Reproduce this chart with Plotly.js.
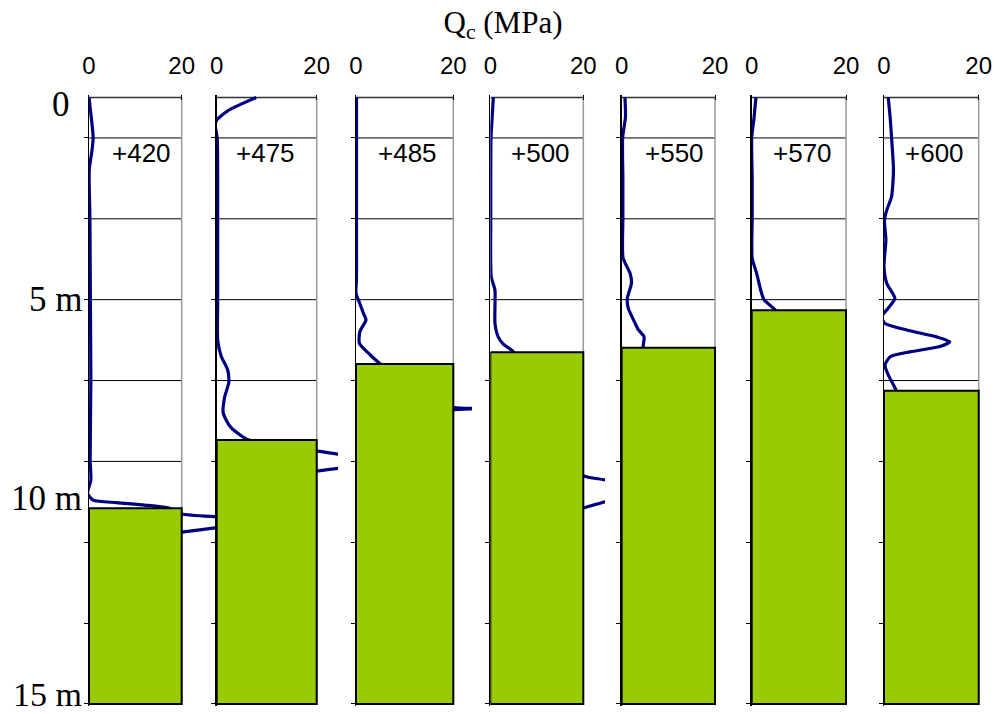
<!DOCTYPE html>
<html>
<head>
<meta charset="utf-8">
<script src="https://cdn.plot.ly/plotly-3.0.1.min.js"></script>
<style>html,body{margin:0;padding:0;background:#fff;}#chart{width:997px;height:714px;}</style>
</head>
<body>
<div id="chart"></div>
<script>
// ---------- DATA ----------
const stations = ['+420', '+475', '+485', '+500', '+550', '+570', '+600'];
const xTickVals = [0, 20];
const xTickText = ['0', '20'];
const depthLabels = ['0', '5 m', '10 m', '15 m'];
const depthLabelVals = [0, 5, 10, 15];
const gridDepths = [1, 3, 5, 7, 9, 11, 13];
const maxDepth = 15;
// depth (m) at which the green layer starts, one per station
const layerTop = [10.16, 8.47, 6.59, 6.30, 6.19, 5.26, 7.25];

// cone resistance qc (MPa) vs depth z (m)
const z420  = [0, 0.5, 1.0, 1.3, 1.8, 3, 5, 7, 8.97, 9.46, 9.79, 9.96, 10.02, 10.08, 10.15, 10.30, 10.37, 10.45, 10.64, 10.75, 10.85];
const qc420 = [0, 0.5, 0.9, 0.65, 0.05, 0.2, 0.3, 0.4, 0.25, 0.4, -0.3, 0.9, 6, 12, 17, 20, 27.6, 41, 27.6, 20, 12];

const z475  = [0, 0.33, 0.56, 0.68, 1.0, 3, 5, 6.0, 6.4, 6.74, 7.06, 7.4, 7.8, 8.14, 8.45, 8.6, 8.74, 8.82, 9.0, 9.17, 9.24, 9.35];
const qc475 = [7.9, 2.2, 0, -0.3, 0.1, 0.2, 0.2, 0.2, 0.9, 2.2, 2.4, 1.6, 1.3, 2.7, 6, 12, 20, 24.3, 36, 24.3, 20, 12];

const z485  = [0, 1, 2, 3, 4, 4.47, 4.84, 5.1, 5.33, 5.5, 5.79, 6.08, 6.35, 6.58, 6.9, 7.3, 7.66, 7.69, 7.72, 7.8];
const qc485 = [0.1, 0.1, 0.1, 0.1, 0.1, 0.1, 0, 0.8, 1.5, 2.05, 0.8, 0.7, 2.8, 4.9, 9, 15, 20, 26, 20, 14];

const z500  = [0, 0.5, 1.0, 2, 3, 4.43, 4.76, 5.2, 5.58, 5.92, 6.1, 6.25, 6.6, 7.2, 8.0, 8.8, 9.35, 9.46, 9.75, 10.0, 10.15, 10.3];
const qc500 = [0.65, 0.4, 0.15, 0.1, 0.1, 0.2, 1.0, 1.0, 1.0, 1.7, 2.8, 4.6, 7, 9, 12, 16, 20, 24.7, 34, 24.7, 20, 15];

const z550  = [0, 0.3, 0.5, 1.0, 2, 3, 3.97, 4.35, 4.59, 4.97, 5.21, 5.59, 5.75, 5.92, 6.16, 6.4];
const qc550 = [0.7, 0.8, 0.8, 0.2, 0.25, 0.25, 0.3, 1.8, 2.1, 1.2, 1.4, 2.9, 3.6, 4.8, 4.6, 5];

const z570  = [0, 0.5, 1.0, 2, 3, 3.97, 4.35, 4.76, 5.0, 5.21, 5.4];
const qc570 = [0.9, 0.5, 0, 0.1, 0.1, 0.1, 1.05, 1.9, 2.6, 4.6, 6];

const z600  = [0, 0.5, 1.0, 1.79, 2.45, 2.78, 3.03, 3.52, 4.18, 4.6, 4.97, 5.21, 5.42, 5.59, 5.75, 5.92, 6.04, 6.16, 6.29, 6.41, 6.62, 6.86, 7.11, 7.23, 7.4];
const qc600 = [0.9, 1.3, 1.6, 2.0, 1.6, 0.6, 0.1, 0.4, 0, 0.6, 2.3, 0.9, -0.5, 0.2, 4.8, 11.1, 13.9, 11.8, 5.5, 1.3, 0.2, 0.9, 2.0, 2.5, 3];

const depthSeries = [z420, z475, z485, z500, z550, z570, z600];
const qcSeries = [qc420, qc475, qc485, qc500, qc550, qc570, qc600];

// ---------- LAYOUT GEOMETRY (pixels) ----------
const W = 997, H = 714;
const panelLeft  = [89, 216.7, 356, 490.3, 621.7, 751.7, 884];
const panelRight = [181.7, 316.7, 453.3, 583.3, 715, 846, 978.7];
const panelClip  = [216.7, 338, 472, 605, 717, 848, 980.7];
const labelX = [11.3, 9.8, 10.6, 10.9, 11.4, 10.7, 10.7];
const yTopPx = 97.5, yBotPx = 704, pad = 0.05;
const pxPerM = (yBotPx - yTopPx) / maxDepth;
const yDomain = [1 - (yBotPx + pad * pxPerM) / H, 1 - (yTopPx - pad * pxPerM) / H];

const navy = '#000080', green = '#99CC00';
const sans = 'Liberation Sans, Arial, sans-serif';
const serif = 'Liberation Serif, Times New Roman, serif';

const traces = [];
const shapes = [];
const annotations = [];
const layout = {
  width: W, height: H,
  margin: {l: 0, r: 0, t: 0, b: 0},
  paper_bgcolor: '#ffffff',
  plot_bgcolor: 'rgba(0,0,0,0)',
  showlegend: false,
  hovermode: false,
  title: {
    text: 'Q<sub>c</sub> (MPa)',
    font: {family: serif, size: 31, color: '#000'},
    x: 503 / W, xanchor: 'center', y: 1 - 22 / H, yanchor: 'middle'
  }
};

stations.forEach((st, i) => {
  const n = i === 0 ? '' : String(i + 1);
  const xa = 'x' + n, ya = 'y' + n;
  const L = panelLeft[i], R = panelRight[i], E = panelClip[i];
  const xmax = 20 * (E - L) / (R - L);
  layout['xaxis' + n] = {
    domain: [L / W, E / W],
    range: [0, xmax],
    anchor: ya,
    side: 'top',
    tickmode: 'array', tickvals: xTickVals, ticktext: xTickText,
    ticks: 'inside', ticklen: 5, tickwidth: 1, tickcolor: '#000',
    ticklabelstandoff: 16,
    tickfont: {family: sans, size: 24, color: '#000'},
    showline: false, showgrid: false, zeroline: false, fixedrange: true
  };
  layout['yaxis' + n] = {
    domain: yDomain,
    range: [maxDepth + pad, -pad],
    anchor: xa,
    tickmode: 'array', tickvals: gridDepths.concat([maxDepth]),
    ticks: 'outside', ticklen: 4, tickwidth: 1, tickcolor: '#000',
    showticklabels: false,
    showline: true, linecolor: '#000', linewidth: 1.5,
    showgrid: false, zeroline: false, fixedrange: true
  };

  // grid lines inside panel
  gridDepths.forEach(d => shapes.push({
    type: 'line', xref: xa, yref: ya, x0: 0, x1: 20, y0: d, y1: d,
    line: {color: '#000', width: 1}, layer: 'below'
  }));
  // right border (grey) and top border (black)
  shapes.push({type: 'line', xref: xa, yref: ya, x0: 20, x1: 20, y0: 0, y1: maxDepth,
    line: {color: '#9a9a9a', width: 1.5}, layer: 'below'});
  shapes.push({type: 'line', xref: xa, yref: ya, x0: 0, x1: 20, y0: 0, y1: 0,
    line: {color: '#333', width: 1.5}, layer: 'below'});

  // qc profile
  traces.push({
    type: 'scatter', mode: 'lines', xaxis: xa, yaxis: ya,
    x: qcSeries[i], y: depthSeries[i],
    line: {color: navy, width: 3.2, shape: 'spline', smoothing: 0.6}
  });
  // green layer
  traces.push({
    type: 'scatter', mode: 'lines', xaxis: xa, yaxis: ya,
    x: [0, 20, 20, 0, 0],
    y: [layerTop[i], layerTop[i], maxDepth, maxDepth, layerTop[i]],
    fill: 'toself', fillcolor: green,
    line: {color: '#000', width: 2}
  });

  annotations.push({
    xref: xa, yref: ya, x: labelX[i], y: 1.37, text: st, showarrow: false,
    xanchor: 'center', yanchor: 'middle',
    font: {family: sans, size: 26, color: '#000'}
  });
});

// depth labels on the left
depthLabels.forEach((t, k) => {
  const isZero = depthLabelVals[k] === 0;
  annotations.push({
    xref: 'paper', yref: 'y', x: isZero ? 61 / W : 84 / W, y: depthLabelVals[k],
    text: t, showarrow: false,
    xanchor: isZero ? 'center' : 'right', yanchor: 'middle',
    yshift: isZero ? -7 : (depthLabelVals[k] === 10 ? 3 : (depthLabelVals[k] === 15 ? 9 : 0)),
    font: {family: serif, size: isZero ? 35 : (depthLabelVals[k] === 15 ? 34 : 35), color: '#000'}
  });
});

layout.shapes = shapes;
layout.annotations = annotations;

Plotly.newPlot('chart', traces, layout, {displayModeBar: false, staticPlot: true});
</script>
</body>
</html>
